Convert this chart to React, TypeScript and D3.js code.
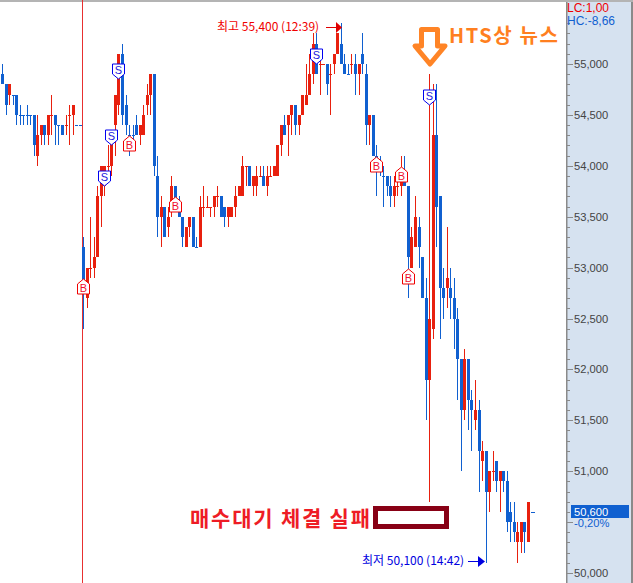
import React from "react";
import * as d3 from "d3";

// Prices in hundreds of won
const sides = "bbrbbbbbbb" + "rrbrrbbbrr" + "rbbbrrrrrr" + "rrrrbbbbbr" + "rrrbbrbrrb" + "bbrrbbrrrr" + "rrbbrrrrrr" + "brrrbrrrrr" + "brrbrrrrrb" + "rrbrrrbbbr" + "brbbrbbbbb" + "brrrbbrrbb" + "brrbbbrbbb" + "brbbrbrbrr" + "brbbbbrrbrb";
const bodyTop = [
  549,548,548,547,547,545,545,545,545,545, 543,544,544,545,545,545,544,544,544,545,
  546,544,544,532,530,530,531,537,540,540, 540,543,547,551,551,546,543,543,544,544,
  545,547,549,549,539,536,536,535,538,538, 536,535,534,535,535,532,536,536,536,536,
  537,537,537,536,536,536,537,538,540,540, 540,539,539,539,539,539,539,540,542,544,
  544,545,546,546,545,547,547,549,552,552, 550,550,550,549,551,553,552,550,549,550,
  550,550,551,549,545,545,541,540,539,539, 538,538,538,539,539,538,533,535,534,531,
  527,525,543,543,537,528,529,528,527,525, 521,521,521,517,516,516,512,512,510,510,
  511,510,510,509,506,505,504,505,505,507,506,
];
const bodyBottom = [
  548,546,547,547,545,545,545,545,545,542, 541,543,543,543,545,544,544,543,544,545,
  545,544,544,528,527,530,530,531,537,538, 540,540,544,546,545,544,543,543,543,543,
  543,546,547,540,535,535,533,534,536,536, 535,533,532,534,532,532,532,536,536,536,
  536,537,535,535,535,535,536,537,537,540, 538,538,538,539,538,538,539,539,539,542,
  543,544,545,544,544,545,546,547,549,549, 550,550,548,549,550,551,550,549,549,550,
  549,549,550,544,544,541,540,540,539,538, 537,537,538,538,538,531,530,532,532,527,
  519,519,524,536,528,527,528,527,525,521, 516,516,517,516,515,512,511,508,508,510,
  509,509,509,505,505,504,503,503,504,503,506,
];
const highs = [
  550,548,548,547,547,546,545,546,545,545, 545,544,544,545,547,545,544,544,545,546,
  546,544,544,533,530,535,533,538,540,540, 542,543,547,551,552,547,544,544,545,544,
  546,548,549,549,541,537,536,536,539,538, 537,535,534,535,535,533,537,538,537,536,
  537,538,537,536,536,536,538,538,541,540, 540,539,540,540,540,540,540,540,542,544,
  545,545,546,546,545,547,550,551,553,553, 551,550,550,550,551,553,554,551,550,551,
  551,550,553,550,545,545,542,541,540,539, 539,539,539,541,541,538,534,537,535,531,
  529,549,548,548,537,530,534,530,529,526, 521,522,521,518,519,517,513,512,510,512,
  511,510,510,510,507,507,505,505,505,507,506,
];
const lows = [
  548,545,546,546,544,544,544,544,544,541, 540,542,542,542,543,542,542,543,543,542,
  543,544,544,524,526,529,529,531,534,537, 539,539,541,545,544,543,541,542,543,542,
  543,545,545,539,533,532,533,533,535,536, 535,532,532,533,532,532,532,535,536,535,
  535,536,535,534,534,535,535,537,537,538, 538,537,537,539,538,537,539,539,539,541,
  543,541,543,543,543,545,546,547,548,549, 547,550,547,545,549,551,550,549,549,549,
  547,547,549,542,542,541,537,539,536,537, 536,536,537,537,538,527,530,532,530,527,
  515,507,523,532,523,525,526,525,522,517, 510,515,514,512,514,508,509,501,506,509,
  508,506,508,504,503,503,501,502,502,503,506,
];
const buySignals = [[23, 52900], [36, 54300], [49, 53700], [106, 54100], [113, 54000], [115, 53000]];
const sellSignals = [[29, 53800], [31, 54200], [33, 54850], [89, 55000], [121, 54600]];
const tickLabels = ["50,000", "51,000", "51,500", "52,000", "52,500", "53,000", "53,500", "54,000", "54,500", "55,000"];
const tickValues = [50000, 51000, 51500, 52000, 52500, 53000, 53500, 54000, 54500, 55000];
const minorTicks = d3.range(50000, 55500, 100);
const lastPrice = 50600;

const RED = "#e8200e";
const BLUE = "#1060d0";
const KR = "'Noto Sans CJK KR', sans-serif";
const LAT = "'Liberation Sans', sans-serif";

const x = d3.scaleLinear().domain([0, 150]).range([2, 531.5]);
const y = d3.scaleLinear().domain([50000, 55000]).range([573, 64]);
const X = (i: number) => Math.round(x(i));
const Y = (p: number) => Math.round(y(p));

export default function App() {
  return (
    <svg width={633} height={583} style={{ position: "absolute", left: 0, top: 0, background: "#fff" }}>
      <rect x={0} y={0} width={633} height={2} fill="#b4b4b4" />
      <rect x={567} y={2} width={65} height={581} fill="#d6e2f0" />
      <rect x={566} y={2} width={1.5} height={581} fill="#8a8a8a" />
      <rect x={631} y={2} width={2} height={581} fill="#8a8a8a" />
      <line x1={82.5} x2={82.5} y1={0} y2={583} stroke="#e83030" />

      {bodyTop.map((_, i) => {
        const c = sides[i] === "r" ? RED : BLUE;
        const cx = X(i);
        const t = Y(bodyTop[i] * 100);
        const b = Y(bodyBottom[i] * 100);
        return (
          <g key={i}>
            <rect x={cx} y={Y(highs[i] * 100)} width={1} height={Math.max(1, Y(lows[i] * 100) - Y(highs[i] * 100))} fill={c} />
            <rect x={cx - 1} y={t} width={3} height={Math.max(1, b - t)} fill={c} />
          </g>
        );
      })}

      {buySignals.map(([i, p]) => {
        const cx = X(i) + 0.5, t = Y(p) + 1;
        return (
          <g key={"b" + i}>
            <path d={`M${cx},${t} L${cx + 6},${t + 5} V${t + 15} H${cx - 6} V${t + 5} Z`} fill="#fff" stroke="#f00000" />
            <text x={cx} y={t + 13} textAnchor="middle" fontSize={11} fontFamily={LAT} fill="#f01030">B</text>
          </g>
        );
      })}
      {sellSignals.map(([i, p]) => {
        const cx = X(i) + 0.5, t = Y(p);
        return (
          <g key={"s" + i}>
            <path d={`M${cx},${t} L${cx + 6},${t - 5} V${t - 15} H${cx - 6} V${t - 5} Z`} fill="#fff" stroke="#0000f0" />
            <text x={cx} y={t - 5} textAnchor="middle" fontSize={11} fontFamily={LAT} fill="#2020e0">S</text>
          </g>
        );
      })}

      {minorTicks.map((v) => (
        <line key={v} x1={567} x2={570} y1={Y(v) + 0.5} y2={Y(v) + 0.5} stroke="#8a8a8a" />
      ))}
      {minorTicks.filter((v) => v % 500 === 0).map((v) => (
        <line key={v} x1={567} x2={573} y1={Y(v) + 0.5} y2={Y(v) + 0.5} stroke="#8a8a8a" />
      ))}
      {tickValues.map((v, i) => (
        <text key={v} x={574} y={Y(v) + 4} fontSize={11.2} fontFamily={LAT} fill="#444">{tickLabels[i]}</text>
      ))}

      <text x={567} y={12} fontSize={12} fontFamily={LAT} fill="#f00000">LC:1,00</text>
      <text x={567} y={25} fontSize={12} fontFamily={LAT} fill={BLUE}>HC:-8,66</text>

      <rect x={571} y={505} width={58} height={13} fill={BLUE} />
      <text x={574} y={516} fontSize={11.2} fontFamily={LAT} fill="#fff">50,600</text>
      <text x={574} y={527} fontSize={11.2} fontFamily={LAT} fill={BLUE}>-0,20%</text>
      <line x1={X(150)} x2={X(150) + 3} y1={Y(lastPrice) + 0.5} y2={Y(lastPrice) + 0.5} stroke={BLUE} />

      <text x={217} y={31} fontSize={12} fontFamily={KR} fill="#f00000">최고 55,400 (12:39)</text>
      <line x1={326} x2={337} y1={27.5} y2={27.5} stroke="#e00000" />
      <path d="M336,22 L342,27.5 L336,33 Z" fill="#e00000" />

      <text x={362} y={565} fontSize={12} fontFamily={KR} fill="#0000e0">최저 50,100 (14:42)</text>
      <line x1={468} x2={479} y1={561.5} y2={561.5} stroke="#0000e0" />
      <path d="M478,556 L485,561.5 L478,567 Z" fill="#0000e0" />

      <path d="M421.5,29.5 H437.5 V46 H445 L430,64 L415,46 H421.5 Z" fill="#fff" stroke="#ff8426" strokeWidth={5} strokeLinejoin="round" />
      <text x={449} y={43} fontSize={20} fontWeight={700} fontFamily={KR} fill="#ff7f20" textLength={109} lengthAdjust="spacing">HTS상 뉴스</text>

      <text x={190} y={526} fontSize={21} fontWeight={700} fontFamily={KR} fill="#ee1c25" textLength={180} lengthAdjust="spacing">매수대기 체결 실패</text>
      <rect x={375.5} y={508.5} width={71} height={18} fill="none" stroke="#880015" strokeWidth={5} />
    </svg>
  );
}
